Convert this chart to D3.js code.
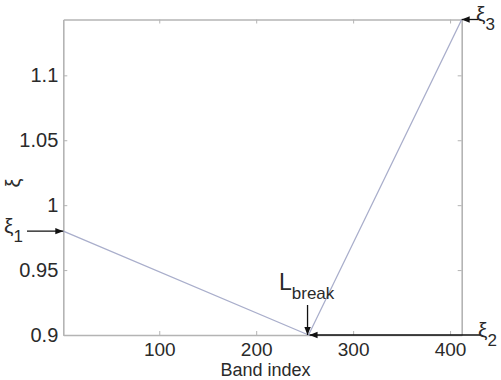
<!DOCTYPE html>
<html>
<head>
<meta charset="utf-8">
<script src="https://cdn.jsdelivr.net/npm/d3@7"></script>
<style>
  html, body { margin: 0; padding: 0; background: #fff; }
  svg { display: block; font-family: "Liberation Sans", Arial, sans-serif; }
</style>
</head>
<body>
<svg id="chart" width="501" height="380"></svg>
<script>
// piecewise-linear weighting curve
const bands = [1, 254, 412];
const xi = [0.98, 0.9, 1.143];
const xTicks = [100, 200, 300, 400];
const yTicks = [0.9, 0.95, 1, 1.05, 1.1];

const box = { left: 63.3, top: 19.5, right: 461.7, bottom: 335 };

const svg = d3.select('#chart');

const x = d3.scaleLinear().domain([bands[0], bands[2]]).range([box.left, box.right]);
const y = d3.scaleLinear().domain([xi[1], xi[2]]).range([box.bottom, box.top]);

const AXIS = '#b4b4b4', TXT = '#2a2a2a';

// arrowhead
svg.append('defs').append('marker')
    .attr('id', 'head')
    .attr('viewBox', '0 0 10 10')
    .attr('refX', 10).attr('refY', 5)
    .attr('markerWidth', 9).attr('markerHeight', 8)
    .attr('markerUnits', 'userSpaceOnUse')
    .attr('orient', 'auto')
  .append('path')
    .attr('d', 'M0,1 L10,5 L0,9 Z')
    .attr('fill', '#111');

// box with inward ticks on all four sides
const gAxes = svg.append('g');
const xAxB = d3.axisBottom(x).tickValues(xTicks).tickSizeInner(-4).tickSizeOuter(0).tickPadding(8);
const xAxT = d3.axisTop(x).tickValues(xTicks).tickSizeInner(-4).tickSizeOuter(0).tickFormat('');
const yAxL = d3.axisLeft(y).tickValues(yTicks).tickSizeInner(-4).tickSizeOuter(0).tickPadding(5).tickFormat(d3.format('~g'));
const yAxR = d3.axisRight(y).tickValues(yTicks).tickSizeInner(-4).tickSizeOuter(0).tickFormat('');

const gxb = gAxes.append('g').attr('transform', `translate(0,${box.bottom})`).call(xAxB);
const gxt = gAxes.append('g').attr('transform', `translate(0,${box.top})`).call(xAxT);
const gyl = gAxes.append('g').attr('transform', `translate(${box.left},0)`).call(yAxL);
const gyr = gAxes.append('g').attr('transform', `translate(${box.right},0)`).call(yAxR);

[gxb, gxt, gyl, gyr].forEach(g => {
    g.select('.domain').attr('stroke', AXIS).attr('stroke-width', 1.6);
    g.selectAll('.tick line').attr('stroke', AXIS);
    g.selectAll('.tick text').attr('fill', TXT).attr('font-size', '20px')
        .attr('font-family', '"Liberation Sans", Arial, sans-serif');
});
gxb.selectAll('.tick text').attr('font-size', '19px').attr('dy', '0.71em');

// curve
svg.append('path')
    .datum(bands.map((b, i) => [b, xi[i]]))
    .attr('fill', 'none')
    .attr('stroke', '#a9aecb')
    .attr('stroke-width', 1.3)
    .attr('d', d3.line().x(d => x(d[0])).y(d => y(d[1])));

// axis titles
svg.append('text')
    .attr('x', (box.left + box.right) / 2 + 3).attr('y', 376)
    .attr('text-anchor', 'middle').attr('fill', TXT).attr('font-size', '18px')
    .text('Band index');

svg.append('text')
    .attr('transform', 'translate(20,183) rotate(-90)')
    .attr('text-anchor', 'middle').attr('fill', TXT).attr('font-size', '20px')
    .text('ξ');

// annotations
function arrow(x1, y1, x2, y2) {
    svg.append('line')
        .attr('x1', x1).attr('y1', y1).attr('x2', x2).attr('y2', y2)
        .attr('stroke', '#111').attr('stroke-width', 1.3)
        .attr('marker-end', 'url(#head)');
}

function label(tx, ty, main, sub) {
    const t = svg.append('text').attr('x', tx).attr('y', ty)
        .attr('fill', TXT).attr('font-size', '21px');
    t.append('tspan').text(main);
    t.append('tspan').attr('dy', 9).attr('font-size', '17px').text(sub);
}

// ξ1 at the left edge
arrow(27, y(xi[0]), x(bands[0]), y(xi[0]));
label(4, y(xi[0]) + 2, 'ξ', '1');

// ξ2 along the bottom, pointing to the break
arrow(480, y(xi[1]), x(bands[1]) + 1, y(xi[1]));
label(478, y(xi[1]) + 2, 'ξ', '2');

// ξ3 at the top-right corner
arrow(478, y(xi[2]), x(bands[2]), y(xi[2]));
label(476, y(xi[2]) + 1, 'ξ', '3');

// L_break
arrow(x(bands[1]) - 1, 305, x(bands[1]) - 1, y(xi[1]));
const lb = svg.append('text').attr('x', 279).attr('y', 290)
    .attr('fill', TXT).attr('font-size', '23px');
lb.append('tspan').text('L');
lb.append('tspan').attr('dy', 9).attr('font-size', '17px').text('break');
</script>
</body>
</html>
